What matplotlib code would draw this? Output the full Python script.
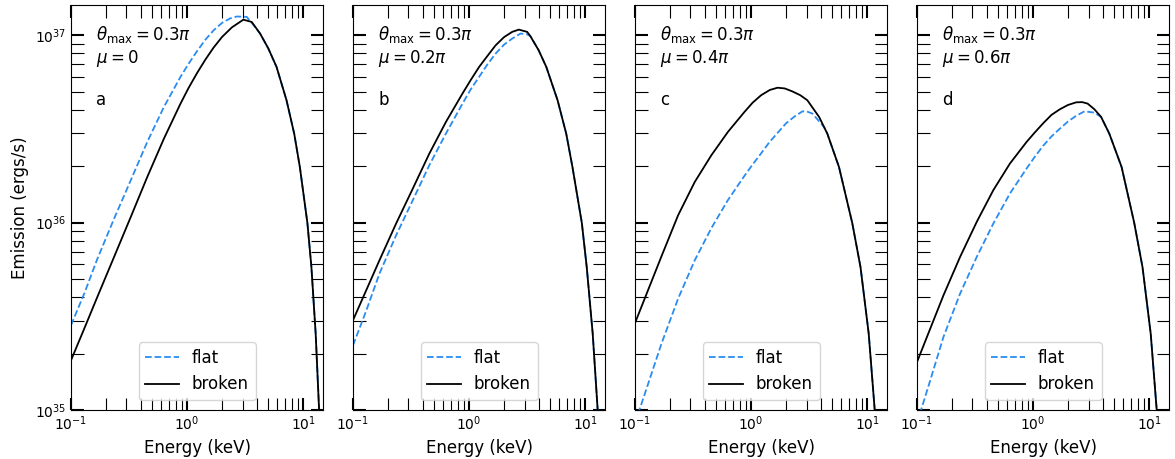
import numpy as np
import matplotlib.pyplot as plt

# Datos: energia (keV) y log10 de la emision (ergs/s)
a_flat_E = [0.100, 0.130, 0.169, 0.235, 0.327, 0.454, 0.631, 0.877, 1.03, 1.22, 1.44, 1.69,
            2.0, 2.35, 2.68, 3.26, 3.85, 4.25, 5.0, 5.89, 7.18, 8.36, 9.35, 10.86, 11.76,
            12.8, 13.7, 14.8]
a_flat = [35.452, 35.621, 35.808, 36.021, 36.226, 36.431, 36.617, 36.778, 36.848, 36.916,
          36.977, 37.026, 37.066, 37.090, 37.100, 37.098, 37.044, 37.009, 36.93, 36.831,
          36.653, 36.475, 36.297, 35.998, 35.763, 35.407, 35.0, 34.4]
a_broken_E = [0.100, 0.130, 0.169, 0.235, 0.327, 0.454, 0.631, 0.877, 1.03, 1.22, 1.44, 1.69,
              2.0, 2.43, 3.05, 3.6, 4.25, 5.0, 5.89, 7.18, 8.36, 9.35, 10.86, 11.76, 12.8,
              13.7, 14.8]
a_broken = [35.265, 35.434, 35.605, 35.817, 36.030, 36.244, 36.448, 36.635, 36.719, 36.799,
            36.871, 36.934, 36.991, 37.042, 37.083, 37.071, 37.009, 36.93, 36.831, 36.653,
            36.475, 36.297, 35.998, 35.763, 35.407, 35.0, 34.4]

b_flat_E = [0.100, 0.130, 0.169, 0.235, 0.327, 0.454, 0.631, 0.877, 1.03, 1.22, 1.44, 1.69,
            2.0, 2.35, 2.77, 3.16, 3.37, 3.97, 4.62, 5.78, 6.86, 7.76, 9.35, 10.3, 11.6,
            12.8, 14.0]
b_flat = [35.345, 35.530, 35.728, 35.932, 36.119, 36.306, 36.475, 36.635, 36.710, 36.778,
          36.845, 36.902, 36.950, 36.982, 37.009, 37.005, 36.995, 36.920, 36.831, 36.653,
          36.475, 36.297, 35.998, 35.763, 35.407, 35.0, 34.4]
b_broken_E = [0.100, 0.130, 0.169, 0.235, 0.327, 0.454, 0.631, 0.877, 1.03, 1.22, 1.44, 1.69,
              2.0, 2.35, 2.68, 3.16, 3.37, 3.97, 4.62, 5.78, 6.86, 7.76, 9.35, 10.3, 11.6,
              12.8, 14.0]
b_broken = [35.479, 35.639, 35.799, 35.995, 36.181, 36.368, 36.537, 36.689, 36.760, 36.831,
            36.890, 36.946, 36.990, 37.018, 37.030, 37.018, 36.995, 36.920, 36.831, 36.653,
            36.475, 36.297, 35.998, 35.763, 35.407, 35.0, 34.4]

c_flat_E = [0.100, 0.130, 0.169, 0.235, 0.327, 0.454, 0.631, 0.877, 1.03, 1.22, 1.44, 2.0,
            2.35, 2.77, 3.05, 3.37, 4.25, 4.53, 5.71, 7.43, 8.75, 10.3, 11.6, 12.5]
c_flat = [34.93, 35.141, 35.354, 35.594, 35.799, 35.970, 36.120, 36.250, 36.310, 36.370,
          36.430, 36.530, 36.565, 36.594, 36.592, 36.582, 36.510, 36.475, 36.297, 35.998,
          35.763, 35.407, 35.0, 34.6]
c_broken_E = [0.100, 0.130, 0.169, 0.235, 0.327, 0.454, 0.631, 0.877, 1.03, 1.22, 1.45, 1.69,
              1.95, 2.27, 2.65, 3.05, 3.85, 4.53, 5.71, 7.43, 8.75, 10.3, 11.6, 12.5]
c_broken = [35.464, 35.642, 35.820, 36.039, 36.217, 36.359, 36.484, 36.591, 36.640, 36.680,
            36.708, 36.720, 36.716, 36.700, 36.680, 36.653, 36.564, 36.475, 36.297, 35.998,
            35.763, 35.407, 35.0, 34.6]

d_flat_E = [0.100, 0.130, 0.169, 0.235, 0.327, 0.454, 0.631, 0.877, 1.03, 1.22, 1.44, 1.69,
            2.0, 2.35, 2.77, 3.37, 3.85, 4.53, 5.78, 7.43, 8.75, 10.3, 11.6, 12.5]
d_flat = [34.93, 35.158, 35.390, 35.621, 35.817, 35.995, 36.155, 36.288, 36.350, 36.410,
          36.460, 36.500, 36.540, 36.570, 36.594, 36.587, 36.564, 36.475, 36.297, 35.998,
          35.763, 35.407, 35.0, 34.6]
d_broken_E = [0.100, 0.130, 0.169, 0.235, 0.327, 0.454, 0.631, 0.877, 1.03, 1.22, 1.44, 1.7,
              2.0, 2.35, 2.65, 2.95, 3.37, 3.85, 4.53, 5.78, 7.43, 8.75, 10.3, 11.6, 12.5]
d_broken = [35.256, 35.434, 35.612, 35.817, 36.004, 36.173, 36.315, 36.430, 36.480, 36.530,
            36.575, 36.605, 36.628, 36.642, 36.643, 36.635, 36.605, 36.564, 36.475, 36.297,
            35.998, 35.763, 35.407, 35.0, 34.6]

letras = ['a', 'b', 'c', 'd']
mus = [r'$\mu = 0$', r'$\mu = 0.2\pi$', r'$\mu = 0.4\pi$', r'$\mu = 0.6\pi$']
flats = [(a_flat_E, a_flat), (b_flat_E, b_flat), (c_flat_E, c_flat), (d_flat_E, d_flat)]
brokens = [(a_broken_E, a_broken), (b_broken_E, b_broken),
           (c_broken_E, c_broken), (d_broken_E, d_broken)]

fig = plt.figure(figsize=(11.75, 4.59), dpi=100)
lefts = [71, 353, 635, 917]
axes = []
for i, left in enumerate(lefts):
    sharey = axes[0] if axes else None
    ax = fig.add_axes([left / 1175, 49 / 459, 252 / 1175, 405 / 459], sharey=sharey)
    axes.append(ax)

    Ef, Lf = flats[i]
    Eb, Lb = brokens[i]
    ax.plot(Ef, 10 ** np.array(Lf), '--', color='#2a8cf0', lw=1.3, label='flat')
    ax.plot(Eb, 10 ** np.array(Lb), '-', color='black', lw=1.3, label='broken')

    ax.set_xscale('log')
    ax.set_yscale('log')
    ax.set_xlim(0.1, 14.8)
    ax.set_ylim(1e35, 1.45e37)

    ax.tick_params(which='both', direction='in', top=True, right=True, labelsize=10)
    ax.tick_params(which='major', length=9, width=1.5)
    ax.tick_params(which='minor', length=9, width=0.8)
    if i > 0:
        ax.tick_params(labelleft=False)

    ax.text(0.1, 0.926, r'$\theta_{\max} = 0.3\pi$', transform=ax.transAxes,
            fontsize=12, va='center')
    ax.text(0.1, 0.869, mus[i], transform=ax.transAxes, fontsize=12, va='center')
    ax.text(0.1, 0.765, letras[i], transform=ax.transAxes, fontsize=12, va='center')

    ax.set_xlabel('Energy (keV)', fontsize=12)
    ax.legend(loc='lower center', fontsize=12, borderaxespad=0.6)

axes[0].set_ylabel('Emission (ergs/s)', fontsize=12)

fig.savefig('out.png', dpi=100)
